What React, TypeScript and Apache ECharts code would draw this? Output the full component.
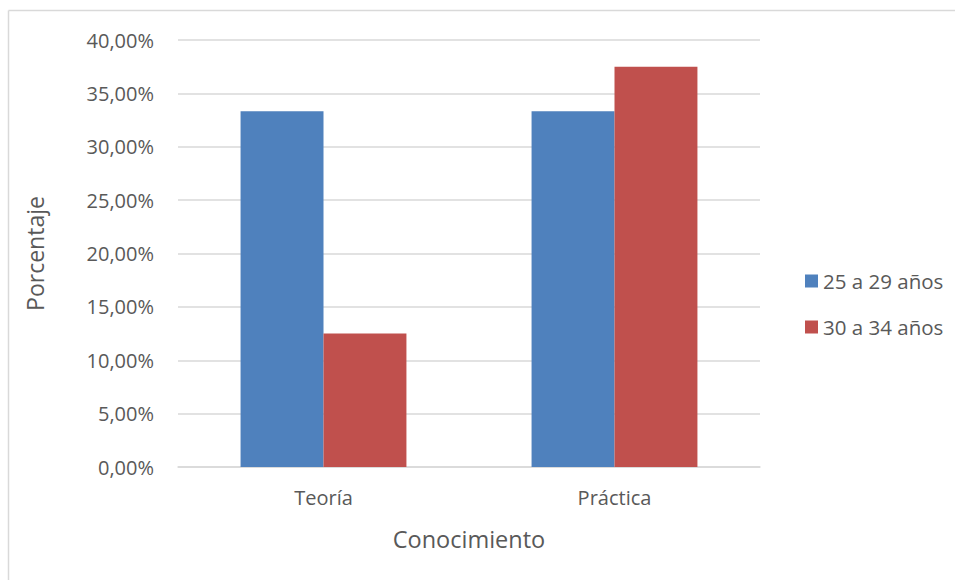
import React, { useEffect, useRef } from "react";
import * as echarts from "echarts";

const categories = ["Teoría", "Práctica"];
const series1Name = "25 a 29 años";
const series2Name = "30 a 34 años";
const series1Values = [33.33, 33.33];
const series2Values = [12.5, 37.5];
const yTicks = { min: 0, max: 40, interval: 5 };

export default function App() {
  const ref = useRef<HTMLDivElement>(null);
  useEffect(() => {
    document.body.style.margin = "0";
    document.body.style.overflow = "hidden";
    const chart = echarts.init(ref.current!, null, { renderer: "svg" });
    const font = "'Open Sans', 'Noto Sans', sans-serif";
    chart.setOption({
      animation: false,
      backgroundColor: "#ffffff",
      textStyle: { fontFamily: font, color: "#595959" },
      graphic: [
        {
          type: "line",
          shape: { x1: 8.5, y1: 10.5, x2: 955, y2: 10.5 },
          style: { stroke: "#d9d9d9", lineWidth: 1.5 },
          silent: true,
        },
        {
          type: "line",
          shape: { x1: 8.5, y1: 10.5, x2: 8.5, y2: 580 },
          style: { stroke: "#d9d9d9", lineWidth: 1.5 },
          silent: true,
        },
      ],
      grid: { left: 178, right: 195, top: 40, bottom: 113 },
      legend: {
        orient: "vertical",
        left: 800,
        top: 265,
        itemWidth: 13,
        itemHeight: 13,
        itemGap: 24,
        icon: "rect",
        textStyle: { fontSize: 20.5, color: "#595959", fontFamily: font, lineHeight: 22 },
        data: [series1Name, series2Name],
      },
      xAxis: {
        type: "category",
        data: categories,
        name: "Conocimiento",
        nameLocation: "middle",
        nameGap: 60,
        nameTextStyle: { fontSize: 23.5, color: "#595959", fontFamily: font },
        axisLine: { lineStyle: { color: "#d9d9d9", width: 1.5 } },
        axisTick: { show: false },
        axisLabel: { fontSize: 20, color: "#595959", margin: 20, fontFamily: font },
      },
      yAxis: {
        type: "value",
        min: yTicks.min,
        max: yTicks.max,
        interval: yTicks.interval,
        name: "Porcentaje",
        nameLocation: "middle",
        nameGap: 132,
        nameTextStyle: { fontSize: 23, color: "#595959", fontFamily: font },
        axisLine: { show: false },
        axisTick: { show: false },
        splitLine: { lineStyle: { color: "#d9d9d9", width: 1.5 } },
        axisLabel: {
          fontSize: 20,
          color: "#595959",
          margin: 24,
          fontFamily: font,
          formatter: (v: number) => v.toFixed(2).replace(".", ",") + "%",
        },
      },
      series: [
        {
          name: series1Name,
          type: "bar",
          data: series1Values,
          itemStyle: { color: "#4f81bd" },
          barGap: "0%",
          barCategoryGap: "43%",
        },
        {
          name: series2Name,
          type: "bar",
          data: series2Values,
          itemStyle: { color: "#c0504d" },
          barGap: "0%",
          barCategoryGap: "43%",
        },
      ],
    });
    return () => chart.dispose();
  }, []);
  return <div ref={ref} style={{ width: 955, height: 580 }} />;
}
